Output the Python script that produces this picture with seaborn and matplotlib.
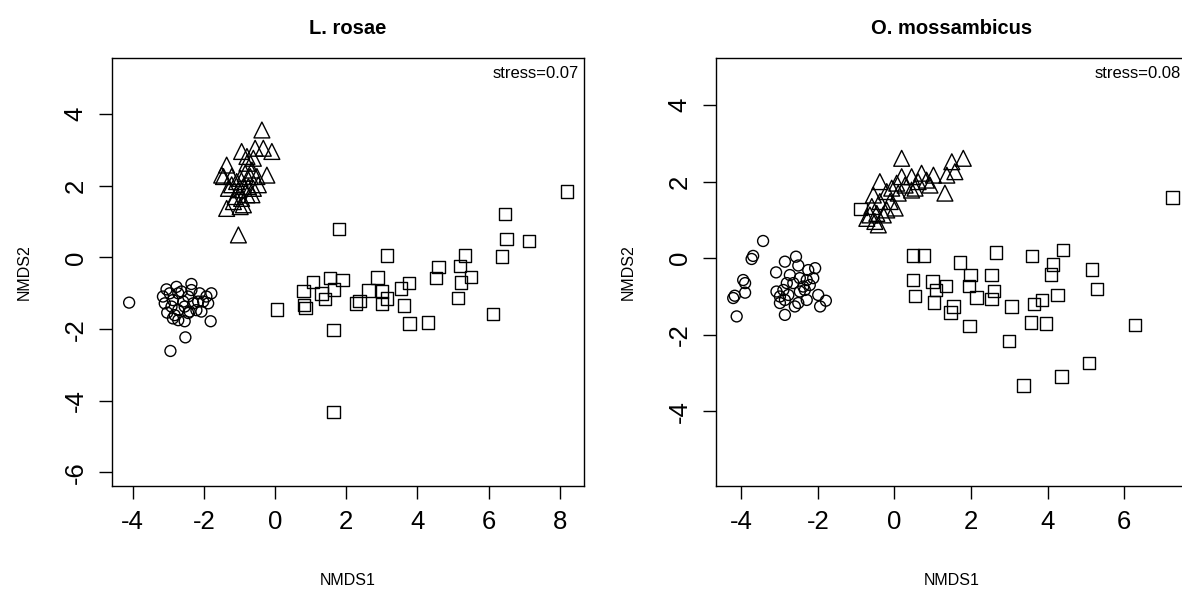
import matplotlib
matplotlib.use("Agg")
import matplotlib.pyplot as plt
import seaborn as sns
import numpy as np

# ---------------- data: L. rosae ----------------
lr_circle_x = [-4.10, -2.94, -2.52, -1.81, -2.54, -2.72, -2.87, -3.03, -1.79, -1.93, -1.88, -2.07,
               -2.21, -2.40, -3.05, -3.15, -3.10, -2.77, -2.72, -2.35, -2.35, -2.44, -2.58, -2.87,
               -2.91, -2.72, -2.12, -2.16, -2.63, -2.96, -2.54, -2.30, -2.44, -2.82, -2.02]
lr_circle_y = [-1.26, -2.61, -2.23, -1.78, -1.78, -1.75, -1.70, -1.54, -1.00, -1.09, -1.28, -1.51,
               -1.47, -1.51, -0.89, -1.09, -1.28, -0.82, -1.00, -0.74, -0.91, -1.09, -1.23, -1.19,
               -1.37, -1.47, -1.00, -1.23, -0.95, -1.00, -1.37, -1.28, -1.55, -1.61, -1.23]
lr_tri_x = [-0.37, -0.09, -0.33, -0.56, -0.94, -1.03, -1.36, -1.45, -1.22, -0.23, -1.36, -1.31,
            -0.98, -0.89, -0.79, -0.65, -0.51, -1.08, -0.89, -0.75, -0.61, -1.12, -0.94, -0.79,
            -0.65, -1.03, -0.70, -0.84, -0.61, -0.79, -1.17, -0.47, -0.98, -1.22, -1.50]
lr_tri_y = [3.56, 2.96, 3.05, 3.05, 2.96, 0.63, 2.58, 2.26, 2.26, 2.30, 1.37, 1.93,
            1.42, 1.47, 2.63, 2.44, 2.26, 2.12, 1.98, 1.98, 1.93, 1.70, 1.65, 1.75,
            1.75, 1.89, 2.26, 2.35, 2.77, 2.82, 1.56, 2.03, 2.21, 2.03, 2.30]
lr_sq_x = [8.21, 6.46, 6.50, 7.14, 6.37, 1.79, 3.15, 5.33, 5.19, 4.59, 5.51, 4.52, 5.22, 5.14,
           6.12, 2.88, 3.76, 3.54, 3.01, 2.62, 3.14, 3.01, 3.63, 2.37, 2.27, 3.78, 4.29, 1.64,
           0.05, 0.80, 1.06, 0.82, 0.86, 1.30, 1.40, 1.54, 1.90, 1.66, 1.64]
lr_sq_y = [1.84, 1.21, 0.52, 0.46, 0.03, 0.80, 0.05, 0.05, -0.23, -0.27, -0.54, -0.58, -0.70, -1.13,
           -1.57, -0.56, -0.71, -0.86, -0.95, -0.92, -1.15, -1.28, -1.34, -1.22, -1.28, -1.84, -1.82, -2.02,
           -1.45, -0.94, -0.69, -1.33, -1.41, -1.00, -1.16, -0.58, -0.63, -0.89, -4.32]

# ---------------- data: O. mossambicus ----------------
om_circle_x = [-3.43, -3.69, -3.73, -3.95, -3.90, -3.90, -4.17, -4.21, -4.12, -3.09, -2.86, -2.57,
               -2.51, -2.86, -3.08, -2.99, -2.86, -2.99, -2.60, -2.51, -2.29, -1.99, -1.94, -1.79,
               -2.07, -2.25, -2.73, -2.47, -2.29, -2.12, -2.81, -2.64, -2.38, -2.21, -2.90, -2.34,
               -2.47, -2.77]
om_circle_y = [0.45, 0.06, -0.02, -0.57, -0.65, -0.90, -0.98, -1.04, -1.52, -0.37, -0.09, 0.04,
               -0.19, -1.48, -0.87, -1.00, -1.09, -1.17, -1.26, -1.17, -1.09, -0.96, -1.26, -1.11,
               -0.26, -0.31, -0.44, -0.52, -0.57, -0.52, -0.65, -0.65, -0.74, -0.70, -0.83, -0.83,
               -0.87, -0.96]
om_tri_x = [0.19, 1.80, 1.50, 1.58, 1.32, 1.37, 1.02, 0.71, 0.45, 0.19, 0.84, 0.93, 0.62, 0.54,
            0.28, 0.06, -0.07, 0.10, -0.38, -0.20, -0.55, -0.38, -0.11, 0.02, -0.20, -0.46, -0.64,
            -0.72, -0.51, -0.42, -0.29, -0.59, 0.45]
om_tri_y = [2.61, 2.61, 2.52, 2.26, 1.70, 2.17, 2.17, 2.22, 2.13, 2.13, 2.04, 1.91, 2.00, 1.83,
            1.91, 1.96, 1.83, 1.70, 2.00, 1.74, 1.65, 1.48, 1.48, 1.31, 1.26, 1.17, 1.13,
            1.04, 0.96, 0.87, 1.13, 1.35, 1.78]
om_sq_x = [-0.88, 0.49, 0.78, 2.65, 3.60, 4.41, 4.15, 4.09, 5.16, 5.29, 1.71, 1.99, 2.54, 0.48,
           1.00, 1.35, 1.09, 1.95, 2.60, 0.54, 1.03, 2.15, 2.54, 3.06, 3.65, 3.85, 4.26, 1.54,
           1.47, 1.96, 3.57, 3.96, 6.29, 3.00, 5.08, 4.37, 3.37, 7.26]
om_sq_y = [1.29, 0.07, 0.07, 0.15, 0.06, 0.22, -0.16, -0.42, -0.29, -0.80, -0.11, -0.44, -0.44, -0.57,
           -0.61, -0.72, -0.83, -0.72, -0.85, -0.98, -1.16, -1.03, -1.07, -1.26, -1.20, -1.09, -0.96, -1.26,
           -1.42, -1.77, -1.68, -1.70, -1.75, -2.16, -2.73, -3.09, -3.33, 1.59]

titles = ["L. rosae", "O. mossambicus"]
stress_labels = ["stress=0.07", "stress=0.08"]
x_ticks = [[-4, -2, 0, 2, 4, 6, 8], [-4, -2, 0, 2, 4, 6]]
y_ticks = [[4, 2, 0, -2, -4, -6], [4, 2, 0, -2, -4]]

sns.set_style("ticks")
plt.rcParams["font.family"] = ["Liberation Sans", "DejaVu Sans"]
plt.rcParams["text.color"] = "black"
plt.rcParams["axes.labelcolor"] = "black"

W, H = 1182, 592
fig = plt.figure(figsize=(W / 100, H / 100), dpi=100)

# axes boxes in pixels (left, top, right, bottom)
boxes = [(111.7, 58, 584, 486), (716, 58, 1188, 486)]
xlims = [(-4.59, 8.68), (-4.66, 7.67)]
ylims = [(-6.38, 5.57), (-5.95, 5.23)]
stress_offsets = [(-5, -8), (-7, -8)]

panels = [
    (lr_circle_x, lr_circle_y, lr_tri_x, lr_tri_y, lr_sq_x, lr_sq_y),
    (om_circle_x, om_circle_y, om_tri_x, om_tri_y, om_sq_x, om_sq_y),
]

for i, (cx, cy, tx, ty, sx, sy) in enumerate(panels):
    l, t, r, b = boxes[i]
    ax = fig.add_axes([l / W, 1 - b / H, (r - l) / W, (b - t) / H])
    common = dict(facecolors="none", edgecolors="black", linewidth=1.0, ax=ax, legend=False)
    sns.scatterplot(x=cx, y=cy, marker="o", s=62, **common)
    sns.scatterplot(x=sx, y=sy, marker="s", s=80, **common)
    sns.scatterplot(x=tx, y=ty, marker="^", s=130, **common)
    ax.set_xlim(*xlims[i])
    ax.set_ylim(*ylims[i])
    ax.set_xticks(x_ticks[i])
    ax.set_yticks(y_ticks[i])
    ax.set_xticklabels([str(v) for v in x_ticks[i]])
    ax.set_yticklabels([str(v) for v in y_ticks[i]], rotation=90, va="center")
    for sp in ax.spines.values():
        sp.set_visible(True)
        sp.set_linewidth(1.0)
        sp.set_color("black")
    ax.tick_params(axis="both", direction="out", length=9.4, width=1.0, colors="black",
                   labelsize=18.5, pad=8)
    ax.set_xlabel("NMDS1", fontsize=11.5, labelpad=28)
    ax.set_ylabel("NMDS2", fontsize=11.5, labelpad=23)
    ax.set_title(titles[i], fontsize=14.5, fontweight="bold", pad=17)
    ax.annotate(stress_labels[i], xy=(1.0, 1.0), xycoords="axes fraction",
                xytext=stress_offsets[i], textcoords="offset pixels",
                ha="right", va="top", fontsize=12)

fig.savefig("out.png", dpi=100)
